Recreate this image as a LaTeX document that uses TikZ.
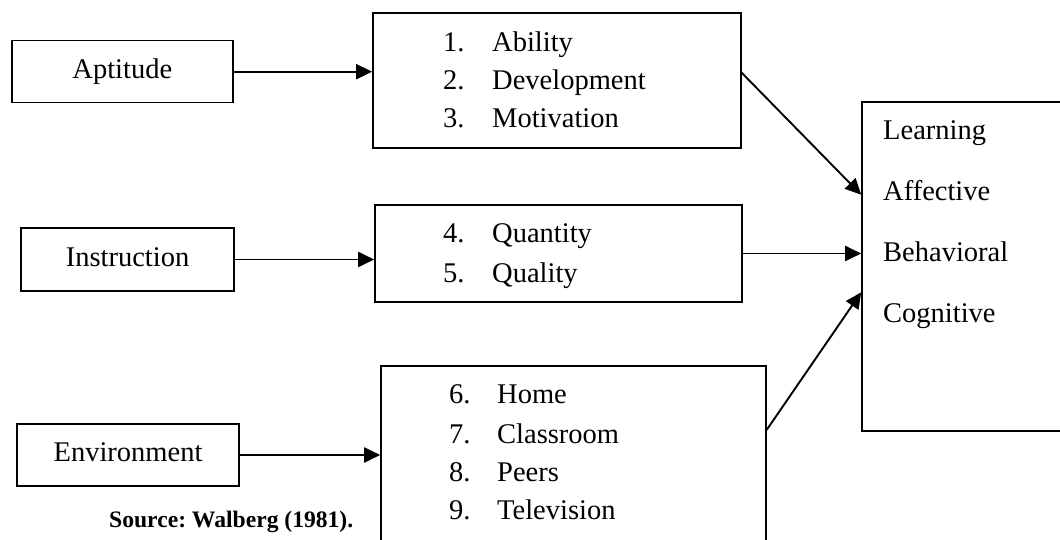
\documentclass[tikz,border=0pt]{standalone}
\usepackage{fontspec}
\setmainfont{Liberation Serif}
\usetikzlibrary{arrows.meta,calc}
\frenchspacing
\tikzset{
  box/.style={draw, line width=1.6pt, inner sep=0pt, rectangle, text height=19.5pt, text depth=6pt,
              font=\fontsize{28.5}{34}\selectfont},
  item/.style={font=\fontsize{28.5}{34}\selectfont, inner sep=0pt, anchor=base west},
  srcnote/.style={font=\fontsize{23.6}{28}\selectfont\bfseries, inner sep=0pt, anchor=base west},
  conn/.style={line width=1.9pt, -{Triangle[length=16pt,width=15pt]}},
}
\begin{document}
\begin{tikzpicture}[x=1pt,y=-1pt]
\useasboundingbox (0,0) rectangle (1060,540);
\clip (0,0) rectangle (1060,540);
% left boxes
\node[box, minimum width=221pt, minimum height=62pt] (apt) at (122.3,71.7) {Aptitude};
\node[box, minimum width=213pt, minimum height=63pt] (ins) at (127.5,259.5) {Instruction};
\node[box, minimum width=222pt, minimum height=62pt] (env) at (128,455) {Environment};
% middle boxes
\node[box, minimum width=368pt, minimum height=135pt] (b1) at (557,80.5) {};
\node[box, minimum width=367pt, minimum height=97pt] (b2) at (558.5,253.5) {};
\node[box, minimum width=385pt, minimum height=194pt] (b3) at (573.5,463) {};
% outcome box
\node[box, minimum width=218pt, minimum height=329pt] (L) at (971,266.5) {};
% list items
\node[item] (n1) at (443,52) {1.};  \node[item] (t1) at (492,52) {Ability};
\node[item] (n2) at (443,90) {2.};  \node[item] (t2) at (492,90) {Development};
\node[item] (n3) at (443,128) {3.}; \node[item] (t3) at (492,128) {Motivation};
\node[item] (n4) at (443,243) {4.}; \node[item] (t4) at (492,243) {Quantity};
\node[item] (n5) at (443,282) {5.}; \node[item] (t5) at (492,282) {Quality};
\node[item] (n6) at (449,403) {6.}; \node[item] (t6) at (497,403) {Home};
\node[item] (n7) at (449,443) {7.}; \node[item] (t7) at (497,443) {Classroom};
\node[item] (n8) at (449,481) {8.}; \node[item] (t8) at (497,481) {Peers};
\node[item] (n9) at (449,519) {9.}; \node[item] (t9) at (497,519) {Television};
% outcome texts
\node[item] (o1) at (883,140) {Learning};
\node[item] (o2) at (883,201) {Affective};
\node[item] (o3) at (883,261) {Behavioral};
\node[item] (o4) at (883,322) {Cognitive};
% source
\node[srcnote] (src) at (109,527) {Source: Walberg (1981).};
% connectors
\draw[conn] (apt.east) -- (apt.east -| b1.west);
\draw[conn] (ins.east) -- (ins.east -| b2.west);
\draw[conn] (env.east) -- (env.east -| b3.west);
\draw[conn] ($(b1.north east)!0.444!(b1.south east)$) -- ($(L.north west)!0.283!(L.south west)$);
\draw[conn] (b2.east) -- (b2.east -| L.west);
\draw[conn] ($(b3.north east)!0.33!(b3.south east)$) -- ($(L.north west)!0.578!(L.south west)$);
\end{tikzpicture}
\end{document}
